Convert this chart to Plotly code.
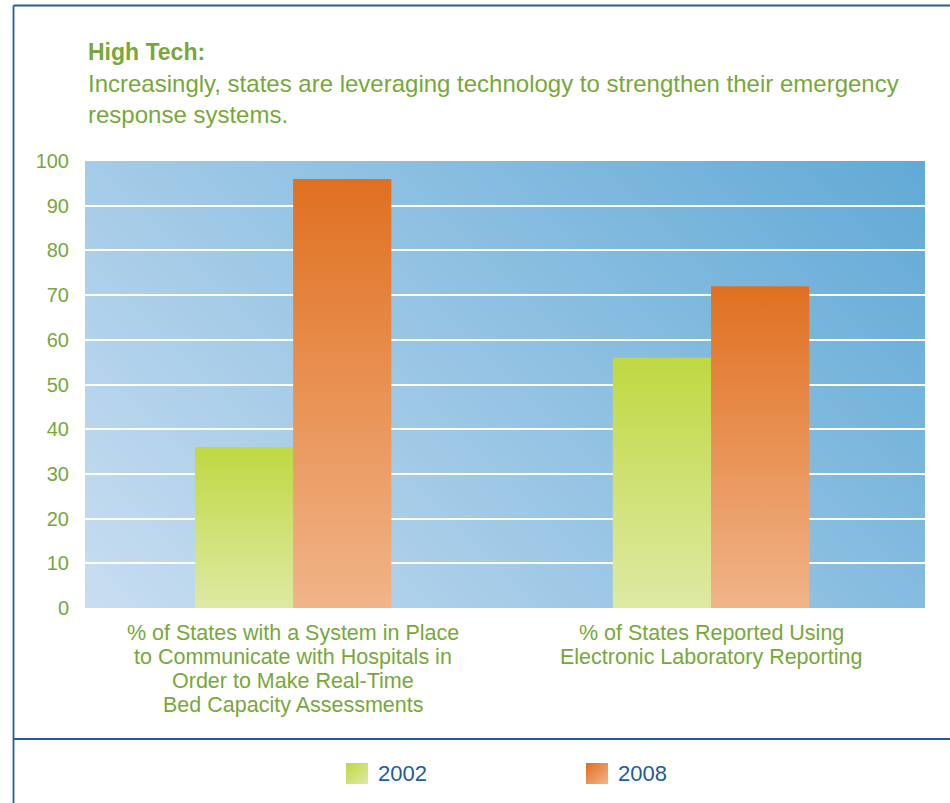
import base64
import struct
import zlib

import plotly.graph_objects as go

# ---- data -------------------------------------------------------------
categories = [
    "% of States with a System in Place<br>to Communicate with Hospitals in<br>Order to Make Real-Time<br>Bed Capacity Assessments",
    "% of States Reported Using<br>Electronic Laboratory Reporting",
]
years = ["2002", "2008"]
values_2002 = [36, 56]
values_2008 = [96, 72]
y_ticks = [0, 10, 20, 30, 40, 50, 60, 70, 80, 90, 100]

title_text = "High Tech:"
subtitle_text = ("Increasingly, states are leveraging technology to strengthen their emergency"
                 "<br>response systems.")

# ---- geometry / style -------------------------------------------------
W, H = 950, 803
ML, MR, MT, MB = 85, 25, 161, 195
PW, PH = W - ML - MR, H - MT - MB
FONT = "Liberation Sans, Arial, Helvetica, sans-serif"
GREEN_TEXT = "#78a73a"
BLUE_TEXT = "#1d5d98"
FRAME = "#245e9c"
BAR_W = 0.235

series_style = {
    "2002": {"top": "#c0d842", "bottom": "#dee9a4", "off": -BAR_W},
    "2008": {"top": "#e07020", "bottom": "#f1b489", "off": 0.0},
}


def px2x(px):
    return (px - ML) / PW


def py2y(py):
    return (H - MB - py) / PH


def hex_rgb(h):
    h = h.lstrip("#")
    return tuple(int(h[i:i + 2], 16) for i in (0, 2, 4))


def mix(c0, c1, t):
    return tuple(int(round(a + (b - a) * t)) for a, b in zip(c0, c1))


def png_uri(w, h, color_at):
    """Encode a small RGB gradient image as a PNG data URI."""
    raw = bytearray()
    for j in range(h):
        raw.append(0)
        v = 1 - j / (h - 1)
        for i in range(w):
            u = i / (w - 1)
            raw += bytes(color_at(u, v))

    def chunk(tag, data):
        return (struct.pack(">I", len(data)) + tag + data
                + struct.pack(">I", zlib.crc32(tag + data) & 0xFFFFFFFF))

    png = (b"\x89PNG\r\n\x1a\n"
           + chunk(b"IHDR", struct.pack(">IIBBBBB", w, h, 8, 2, 0, 0, 0))
           + chunk(b"IDAT", zlib.compress(bytes(raw), 9))
           + chunk(b"IEND", b""))
    return "data:image/png;base64," + base64.b64encode(png).decode()


# diagonal blue panel: light at bottom-left, deeper at top-right
bg_lo, bg_hi = hex_rgb("#c8ddf1"), hex_rgb("#62aad6")
bg_uri = png_uri(168, 90, lambda u, v: mix(bg_lo, bg_hi, (u * PW + v * PH) / (PW + PH)))

fig = go.Figure()

# bars as filled outlines so each one carries its own vertical gradient
for name, vals in (("2002", values_2002), ("2008", values_2008)):
    st = series_style[name]
    for i, v in enumerate(vals):
        x0 = i + st["off"]
        x1 = x0 + BAR_W
        fig.add_trace(go.Scatter(
            x=[x0, x0, x1, x1, x0],
            y=[0, v, v, 0, 0],
            mode="lines",
            line=dict(width=0),
            fill="toself",
            fillcolor=st["top"],
            fillgradient=dict(type="vertical",
                              colorscale=[[0, st["bottom"]], [1, st["top"]]]),
            name=name,
            legendgroup=name,
            showlegend=False,
            hoveron="fills",
            hovertemplate=f"{name}: {v}%<extra></extra>",
        ))

annotations = []

# category labels under each bar pair
for i, cat in enumerate(categories):
    for k, line in enumerate(cat.split("<br>")):
        annotations.append(dict(
            x=i, xref="x", y=0, yref="paper", yanchor="middle", xanchor="center",
            yshift=-(25 + 24 * k), text=line, showarrow=False,
            font=dict(family=FONT, size=21.5, color=GREEN_TEXT),
        ))

# heading
annotations.append(dict(
    x=px2x(85.5), y=py2y(52), xref="paper", yref="paper", xanchor="left", yanchor="middle",
    text=f"<b>{title_text}</b>", showarrow=False, align="left",
    font=dict(family=FONT, size=23, color=GREEN_TEXT),
))
annotations.append(dict(
    x=px2x(85.5), y=py2y(99), xref="paper", yref="paper", xanchor="left", yanchor="middle",
    text=subtitle_text, showarrow=False, align="left",
    font=dict(family=FONT, size=24, color=GREEN_TEXT),
))

# legend: gradient swatches with labels
images = [dict(source=bg_uri, xref="paper", yref="paper", x=0, y=1, sizex=1, sizey=1,
               sizing="stretch", xanchor="left", yanchor="top", layer="below")]
legend_pos = {"2002": 346, "2008": 586}
for name in years:
    st = series_style[name]
    c_dark, c_light = hex_rgb(st["top"]), hex_rgb(st["bottom"])
    uri = png_uri(22, 21, lambda u, v, a=c_dark, b=c_light: mix(a, b, (u + 1 - v) / 2))
    lx = legend_pos[name]
    images.append(dict(source=uri, xref="paper", yref="paper",
                       x=px2x(lx), y=py2y(763), sizex=22 / PW, sizey=21 / PH,
                       sizing="stretch", xanchor="left", yanchor="top", layer="above"))
    annotations.append(dict(
        x=px2x(lx + 30), y=py2y(773), xref="paper", yref="paper",
        xanchor="left", yanchor="middle", text=name, showarrow=False,
        font=dict(family=FONT, size=22, color=BLUE_TEXT),
    ))

# frame lines around the panel
shapes = [
    dict(type="line", xref="paper", yref="paper", x0=px2x(13.5), x1=px2x(13.5),
         y0=py2y(5.5), y1=py2y(H + 2), line=dict(color=FRAME, width=1.8)),
    dict(type="line", xref="paper", yref="paper", x0=px2x(13.5), x1=px2x(W + 2),
         y0=py2y(5.5), y1=py2y(5.5), line=dict(color=FRAME, width=1.8)),
    dict(type="line", xref="paper", yref="paper", x0=px2x(13.5), x1=px2x(W + 2),
         y0=py2y(739), y1=py2y(739), line=dict(color=FRAME, width=1.8)),
]

fig.update_layout(
    width=W, height=H,
    margin=dict(l=ML, r=MR, t=MT, b=MB, pad=0),
    paper_bgcolor="white",
    plot_bgcolor="rgba(0,0,0,0)",
    showlegend=False,
    images=images,
    shapes=shapes,
    annotations=annotations,
    xaxis=dict(range=[-0.498, 1.512], showticklabels=False, showgrid=False,
               zeroline=False, showline=False, fixedrange=True),
    yaxis=dict(range=[0, 100], tickvals=y_ticks, showgrid=True, gridcolor="white",
               gridwidth=1.5, zeroline=False, showline=False, ticks="",
               ticklabelstandoff=15, fixedrange=True,
               tickfont=dict(family=FONT, size=20, color=GREEN_TEXT)),
)

fig.write_html("out.html")
